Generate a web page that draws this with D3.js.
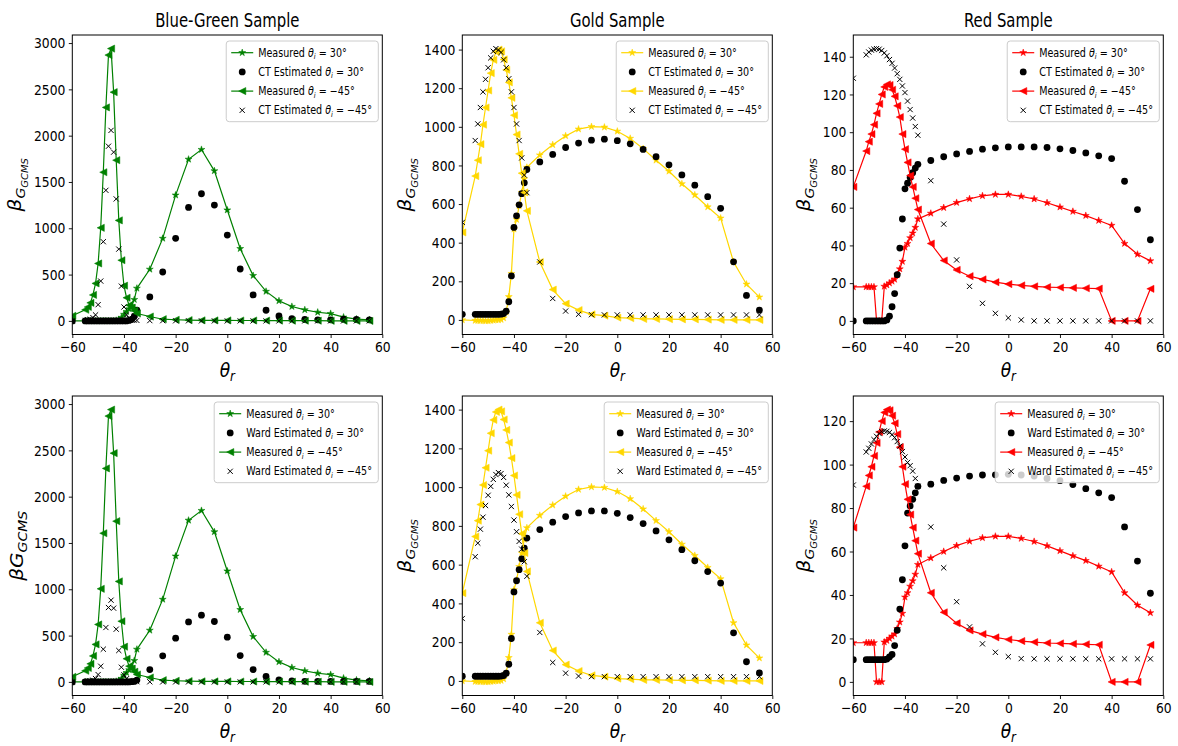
<!DOCTYPE html>
<html><head><meta charset="utf-8">
<script src="https://cdn.jsdelivr.net/npm/d3@7/dist/d3.min.js"></script>
<style>
body{margin:0;background:#fff;}
svg text{font-family:"DejaVu Sans",sans-serif;fill:#000;}
</style></head><body>
<svg id="chart" width="1178" height="746"></svg>
<script>
// ---------------- data ----------------
const thetaR = [-60,-55,-54,-53,-52,-51,-50,-49,-48,-47,-46,-45,-44,-43,-42,-41,-40,-39,-38,-37,-36,-35,-30,-25,-20,-15,-10,-5,0,5,10,15,20,25,30,35,40,45,50,55];
const xTicks = [-60,-40,-20,0,20,40,60];

const sampleTitles = ["Blue-Green Sample","Gold Sample","Red Sample"];
const sampleColors = ["green","gold","red"];

// Blue-Green
const bgMeas30 = [0,0,0,0,0,0,0,0,0,0,0,0,0,5,15,35,70,100,130,165,230,352,557,891,1358,1745,1850,1620,1197,780,489,318,216,155,119,93,79,40,20,12];
const bgMeas45 = [55,120,150,195,280,405,620,1005,1605,2305,2870,2940,2470,1735,1085,655,380,250,170,140,110,80,47,18,12,8,6,5,5,4,4,3,3,2,2,2,1,1,0,0];
const bgCT30 = [0,0,0,0,0,0,0,0,0,0,0,0,0,0,0,0,0,0,5,15,50,115,259,528,891,1225,1373,1250,927,560,280,115,54,25,15,12,12,18,15,12];
const bgCT45 = [0,5,10,18,35,65,175,430,855,1410,1886,2057,1822,1317,775,375,150,65,30,15,8,5,3,2,1,1,0,0,0,0,0,0,0,0,0,0,0,0,0,0];
const bgWard30 = [0,0,0,0,0,0,0,0,0,0,0,0,0,0,0,0,0,0,0,2,5,20,133,281,472,648,720,652,483,284,133,58,22,10,6,5,5,5,5,5];
const bgWard45 = [0,3,5,10,18,36,79,169,353,587,803,882,796,569,339,158,76,35,15,8,4,2,1,0,0,0,0,0,0,0,0,0,0,0,0,0,0,0,0,0];

// Gold
const gMeas30 = [0,-3,-3,-4,-4,-5,-5,-3,-2,0,0,2,10,40,120,240,470,520,590,660,730,790,854,907,953,988,1001,998,977,940,887,827,770,705,647,585,527,300,185,118];
const gMeas45 = [453,745,827,910,1011,1100,1188,1278,1347,1388,1400,1391,1349,1295,1230,1150,1060,960,860,760,660,565,300,157,84,51,29,22,12,9,5,5,4,3,3,2,0,0,0,0];
const gCT30 = [29,29,29,29,29,29,29,29,29,29,29,30,33,45,94,228,479,539,596,654,710,779,818,857,893,916,931,936,928,912,883,845,803,751,698,638,578,301,127,51];
const gCT45 = [505,929,1015,1100,1181,1246,1306,1357,1391,1405,1398,1385,1347,1306,1249,1181,1100,1015,929,839,750,659,300,111,46,29,27,26,26,26,26,26,26,26,26,26,26,26,26,26];
const gWard30 = [24,24,24,24,24,24,24,24,24,24,24,25,28,40,86,219,459,517,574,630,685,737,781,819,848,867,877,877,865,843,812,774,728,677,620,564,505,248,99,41];
const gWard45 = [322,641,711,783,845,905,958,1004,1040,1065,1075,1070,1050,1010,960,900,830,770,720,680,615,540,250,95,40,25,22,22,22,22,22,22,22,22,22,22,22,22,22,22];

// Red
const rMeas30 = [18,18,18,18,18,0,0,0,18.3,19,20,21,22,24.5,27.5,31.5,39,41,44,46.5,49.5,54,57,60,62.7,64.7,66.3,67,67,66,64.6,62.6,60.3,58,55.8,53.2,50.6,41,35.3,31.8];
const rMeas45 = [71,90,95,99,104,110,115,120,124,125.3,125,122.5,119,114,108,99,91,84,77,71,65,59,41,32,27,23.7,22,20.5,19.5,18.8,18.3,17.9,17.7,17.5,17.3,17.1,0,0,0,17];
const rCT30 = [0,0,0,0,0,0,0,0,0,0.5,2.5,7.5,14.5,24.5,38.6,54,70,73,76,78.5,81,83,85,87,88.5,89.8,91,91.7,92.2,92.2,92.2,91.9,91.2,90.3,89,87.5,86,74,59,43];
const rCT45 = [128.6,141,142.5,143.5,144,144.3,144,143.3,142,140.5,138.5,136.5,134,131,128,124.5,121,116.5,112,107.5,103,98.4,74.3,51.3,32.3,18.3,9.3,4,1.6,0.5,0,0,0,0,0,0,0,0,0,0];
const rWard30 = [10.2,10.2,10.2,10.2,10.2,10.2,10.2,10.2,10.2,10.5,11.5,12.6,16.7,23.8,33.5,47,62.6,77.7,81,84,87,90,91,92.7,93.8,94.7,95.2,95.3,95.5,95.2,94.7,93.6,92.6,90.8,88.9,87,84.8,71.3,55.6,40.8];
const rWard45 = [90.6,105.8,107.5,109.5,111.5,113,114.3,115.2,115.5,115.3,114.8,113.8,112.4,110.6,108.5,106,103.5,101,99.5,97,93.6,90,71.3,52.5,36.9,25.3,17.5,13.6,11.6,10.7,10.6,10.6,10.6,10.6,10.6,10.6,10.6,10.6,10.6,10.6];

const yTicksBG = [0,500,1000,1500,2000,2500,3000];
const yTicksGold = [0,200,400,600,800,1000,1200,1400];
const yTicksRedTop = [0,20,40,60,80,100,120,140];
const yTicksRedBottom = [0,20,40,60,80,100,120];

// ---------------- layout ----------------
const SX = 0.85;
const colLeft = [72.3, 462.3, 853.3], axW = 310;
const rowTop = [35, 396], axH = 299.5;

const panels = [
  {r:0,c:0,m30:bgMeas30,m45:bgMeas45,e30:bgCT30,e45:bgCT45,est:"CT",yt:yTicksBG,ylab:"sub"},
  {r:0,c:1,m30:gMeas30,m45:gMeas45,e30:gCT30,e45:gCT45,est:"CT",yt:yTicksGold,ylab:"sub"},
  {r:0,c:2,m30:rMeas30,m45:rMeas45,e30:rCT30,e45:rCT45,est:"CT",yt:yTicksRedTop,ylab:"sub"},
  {r:1,c:0,m30:bgMeas30,m45:bgMeas45,e30:bgWard30,e45:bgWard45,est:"Ward",yt:yTicksBG,ylab:"flat"},
  {r:1,c:1,m30:gMeas30,m45:gMeas45,e30:gWard30,e45:gWard45,est:"Ward",yt:yTicksGold,ylab:"sub"},
  {r:1,c:2,m30:rMeas30,m45:rMeas45,e30:rWard30,e45:rWard45,est:"Ward",yt:yTicksRedBottom,ylab:"sub"}
];

const svg = d3.select("#chart");
svg.append("rect").attr("width",1178).attr("height",746).attr("fill","#fff");

const fmt = d => d < 0 ? "\u2212" + Math.abs(d) : String(d);
const starPath = d3.symbol().type(d3.symbolStar).size(15)();
const triPath = "M-3.6,0L3.6,-3.6L3.6,3.6Z";
const crossPath = "M-2.6,-2.6L2.6,2.6M-2.6,2.6L2.6,-2.6";

panels.forEach((p, i) => {
  const color = sampleColors[p.c];
  const L = colLeft[p.c], T = rowTop[p.r], R = L + axW, B = T + axH;
  const all = [...p.m30, ...p.m45, ...p.e30, ...p.e45];
  const [mn, mx] = d3.extent(all);
  const pad = (mx - mn) * 0.05;
  const x = d3.scaleLinear().domain([-60, 60]).range([L, R]);
  const y = d3.scaleLinear().domain([mn - pad, mx + pad]).range([B, T]);

  const g = svg.append("g");
  const cid = "clip" + i;
  g.append("clipPath").attr("id", cid).append("rect")
    .attr("x", L).attr("y", T).attr("width", axW).attr("height", axH);
  const data = g.append("g").attr("clip-path", `url(#${cid})`);

  const line = d3.line().x((d, k) => x(thetaR[k])).y(d => y(d));

  // Measured 30 (stars)
  data.append("path").attr("d", line(p.m30)).attr("fill","none").attr("stroke",color).attr("stroke-width",1.2);
  data.append("g").selectAll("path").data(p.m30).join("path")
    .attr("d", starPath).attr("transform",(d,k)=>`translate(${x(thetaR[k])},${y(d)})`)
    .attr("fill",color).attr("stroke",color).attr("stroke-width",0.5);
  // Estimated 30 (dots)
  data.append("g").selectAll("circle").data(p.e30).join("circle")
    .attr("cx",(d,k)=>x(thetaR[k])).attr("cy",d=>y(d)).attr("r",3.4).attr("fill","#000");
  // Measured -45 (left triangles)
  data.append("path").attr("d", line(p.m45)).attr("fill","none").attr("stroke",color).attr("stroke-width",1.2);
  data.append("g").selectAll("path").data(p.m45).join("path")
    .attr("d", triPath).attr("transform",(d,k)=>`translate(${x(thetaR[k])},${y(d)})`)
    .attr("fill",color).attr("stroke",color).attr("stroke-width",0.5);
  // Estimated -45 (x)
  data.append("g").selectAll("path").data(p.e45).join("path")
    .attr("d", crossPath).attr("transform",(d,k)=>`translate(${x(thetaR[k])},${y(d)})`)
    .attr("fill","none").attr("stroke","#000").attr("stroke-width",1);

  // frame
  g.append("rect").attr("x",L).attr("y",T).attr("width",axW).attr("height",axH)
    .attr("fill","none").attr("stroke","#000").attr("stroke-width",1);

  // axes
  const xa = g.append("g").attr("transform",`translate(0,${B})`)
    .call(d3.axisBottom(x).tickValues(xTicks).tickSize(3.5).tickPadding(3.5).tickFormat(fmt));
  const ya = g.append("g").attr("transform",`translate(${L},0)`)
    .call(d3.axisLeft(y).tickValues(p.yt).tickSize(3.5).tickPadding(3.5).tickFormat(fmt));
  [xa, ya].forEach(a => {
    a.select(".domain").remove();
    a.attr("font-size", null).attr("font-family", null);
    a.selectAll("line").attr("stroke","#000").attr("stroke-width",0.9);
    a.selectAll("text").attr("font-size", 14.5).attr("fill","#000");
  });
  xa.selectAll("text").attr("transform", `scale(${SX},1)`);
  ya.selectAll("text").each(function(){
    const t = d3.select(this);
    t.attr("x", +t.attr("x") / SX).attr("transform", `scale(${SX},1)`);
  });

  // title
  if (p.r === 0) {
    g.append("text").attr("transform",`translate(${(L+R)/2},27) scale(0.8,1)`)
      .attr("text-anchor","middle").attr("font-size",18.6).text(sampleTitles[p.c]);
  }

  // x label
  const xl = g.append("text").attr("transform",`translate(${(L+R)/2},${B+42}) scale(${SX},1)`)
    .attr("text-anchor","middle").attr("font-size",20);
  xl.append("tspan").attr("font-style","italic").text("\u03b8");
  xl.append("tspan").attr("font-style","italic").attr("font-size",14).attr("dy",4).text("r");

  // y label
  const cy = (T + B) / 2;
  const yl = g.append("text").attr("text-anchor","middle").attr("font-size",20)
    .attr("transform",`translate(0,${cy}) scale(${SX},1) rotate(-90)`);
  if (p.ylab === "flat") {
    yl.append("tspan").attr("font-style","italic").text("\u03b2G");
    yl.append("tspan").attr("font-style","italic").attr("font-size",14).attr("dy",4.5).text("GCMS");
  } else {
    yl.append("tspan").attr("font-style","italic").text("\u03b2");
    yl.append("tspan").attr("font-style","italic").attr("font-size",14).attr("dy",4.5).text("G");
    yl.append("tspan").attr("font-style","italic").attr("font-size",10).attr("dy",3.5).text("GCMS");
  }
  const tickLeft = ya.node().getBoundingClientRect().left;
  const lr = yl.node().getBoundingClientRect();
  yl.attr("transform",`translate(${tickLeft - 4.4 - lr.right},${cy}) scale(${SX},1) rotate(-90)`);

  // legend
  const rows = [
    {kind:"star", pre:"Measured ", val:" = 30\u00b0"},
    {kind:"dot", pre:p.est + " Estimated ", val:" = 30\u00b0"},
    {kind:"tri", pre:"Measured ", val:" = \u221245\u00b0"},
    {kind:"x", pre:p.est + " Estimated ", val:" = \u221245\u00b0"}
  ];
  const lg = g.append("g");
  const box = lg.append("rect");
  const rowH = 19.2, top0 = T + 6;
  let maxW = 0;
  const texts = rows.map((rw, k) => {
    const cyR = top0 + 11.7 + k * rowH;
    const t = lg.append("text").attr("font-size",11.4);
    t.append("tspan").text(rw.pre);
    t.append("tspan").attr("font-style","italic").text("\u03b8");
    t.append("tspan").attr("font-style","italic").attr("font-size",8).attr("dy",2.5).text("i");
    t.append("tspan").attr("dy",-2.5).text(rw.val);
    maxW = Math.max(maxW, t.node().getBBox().width * 0.84);
    return {t, cyR, rw};
  });
  const bw = 32 + maxW + 6.3, bh = 80.7;
  const bx = R - 4 - bw;
  box.attr("x",bx).attr("y",top0).attr("width",bw).attr("height",bh).attr("rx",3)
    .attr("fill","#fff").attr("fill-opacity",0.8).attr("stroke","#cccccc").attr("stroke-width",1);
  texts.forEach(({t, cyR, rw}) => {
    t.attr("transform",`translate(${bx+32},${cyR+4}) scale(0.84,1)`);
    const hx = bx + 16;
    if (rw.kind === "star" || rw.kind === "tri") {
      lg.append("line").attr("x1",bx+5).attr("x2",bx+27).attr("y1",cyR).attr("y2",cyR)
        .attr("stroke",color).attr("stroke-width",1.2);
      lg.append("path").attr("d", rw.kind === "star" ? starPath : triPath)
        .attr("transform",`translate(${hx},${cyR})`).attr("fill",color).attr("stroke",color).attr("stroke-width",0.5);
    } else if (rw.kind === "dot") {
      lg.append("circle").attr("cx",hx).attr("cy",cyR).attr("r",3.4).attr("fill","#000");
    } else {
      lg.append("path").attr("d",crossPath).attr("transform",`translate(${hx},${cyR})`)
        .attr("fill","none").attr("stroke","#000").attr("stroke-width",1);
    }
  });
});
</script>
</body></html>
